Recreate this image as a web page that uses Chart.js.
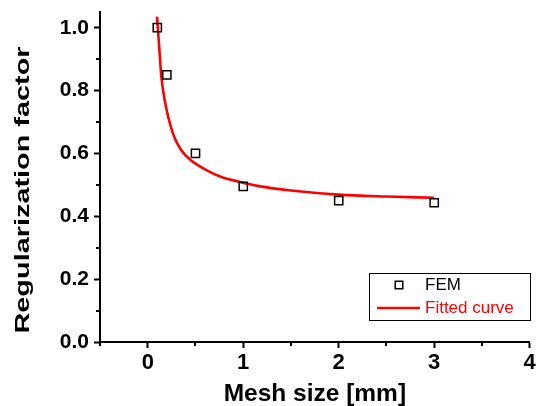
<!DOCTYPE html>
<html>
<head>
<meta charset="utf-8">
<script src="https://cdn.jsdelivr.net/npm/chart.js@4/dist/chart.umd.min.js"></script>
<style>
html,body{margin:0;padding:0;background:#fff;}
canvas{display:block;}
</style>
</head>
<body>
<canvas id="c" width="537" height="406"></canvas>
<script>
// ---- data ----
const femX = [0.1, 0.2, 0.5, 1, 2, 3];
const femY = [1.0, 0.85, 0.60, 0.495, 0.45, 0.443];
const fitX = [0.097, 0.117, 0.142, 0.177, 0.263, 0.349, 0.470, 0.609, 0.765, 0.955, 1.163, 1.5, 2.0, 2.5, 3.0];
const fitY = [1.035, 0.951, 0.845, 0.770, 0.664, 0.611, 0.574, 0.548, 0.526, 0.510, 0.496, 0.482, 0.469, 0.463, 0.459];
const xTicks = [0, 1, 2, 3, 4];
const yTicks = [0, 0.2, 0.4, 0.6, 0.8, 1.0];
const xMinor = [-0.5, 0.5, 1.5, 2.5, 3.5];
const yMinor = [0.1, 0.3, 0.5, 0.7, 0.9];
const seriesNames = ['FEM', 'Fitted curve'];
const xTitle = 'Mesh size [mm]';
const yTitle = 'Regularization factor';

const FONT = "'Liberation Sans', Arial, Helvetica, sans-serif";
const RED = '#ff0000';

const femPts = femX.map((x, i) => ({x: x, y: femY[i]}));
const fitPts = fitX.map((x, i) => ({x: x, y: fitY[i]}));

const noPad = () => ({left: 0, right: 0, top: 0, bottom: 0});

const minorTicksPlugin = {
  id: 'minorTicks',
  afterDraw(chart) {
    const ctx = chart.ctx, xs = chart.scales.x, ys = chart.scales.y;
    const a = chart.chartArea;
    ctx.save();
    ctx.strokeStyle = '#000';
    ctx.lineWidth = 2;
    ctx.beginPath();
    xMinor.forEach(v => {
      const px = Math.round(xs.getPixelForValue(v));
      ctx.moveTo(px, a.bottom); ctx.lineTo(px, a.bottom + 4);
    });
    yMinor.forEach(v => {
      const py = Math.round(ys.getPixelForValue(v));
      ctx.moveTo(a.left, py); ctx.lineTo(a.left - 4, py);
    });
    ctx.stroke();
    ctx.restore();
  }
};

const yTitlePlugin = {
  id: 'yTitleStretch',
  afterDraw(chart, args, opts) {
    const ctx = chart.ctx;
    ctx.save();
    ctx.translate(opts.cx, opts.cy);
    ctx.rotate(-Math.PI / 2);
    ctx.scale(opts.stretch, 1);
    ctx.font = 'bold ' + opts.size + 'px ' + FONT;
    ctx.fillStyle = '#000';
    ctx.textAlign = 'center';
    ctx.textBaseline = 'middle';
    ctx.fillText(yTitle, 0, 0);
    ctx.restore();
  }
};

const legendPlugin = {
  id: 'boxLegend',
  afterDraw(chart, args, o) {
    const ctx = chart.ctx;
    const ds = chart.data.datasets;
    ctx.save();
    ctx.fillStyle = '#fff';
    ctx.fillRect(o.x, o.y, o.w, o.h);
    ctx.strokeStyle = '#000';
    ctx.lineWidth = 1;
    ctx.strokeRect(o.x + 0.5, o.y + 0.5, o.w, o.h);
    const y1 = o.y + 12, y2 = o.y + 35;
    ctx.lineWidth = ds[0].borderWidth;
    ctx.strokeStyle = ds[0].borderColor;
    ctx.strokeRect(o.markerX - 3.75, y1 - 3.75, 7.5, 7.5);
    ctx.font = o.size + 'px ' + FONT;
    ctx.textBaseline = 'middle';
    ctx.textAlign = 'left';
    ctx.fillStyle = '#000';
    ctx.fillText(ds[0].label, o.textX, y1);
    ctx.strokeStyle = ds[1].borderColor;
    ctx.lineWidth = ds[1].borderWidth;
    ctx.beginPath();
    ctx.moveTo(o.lineX0, y2); ctx.lineTo(o.lineX1, y2);
    ctx.stroke();
    ctx.fillStyle = ds[1].borderColor;
    ctx.fillText(ds[1].label, o.textX, y2);
    ctx.restore();
  }
};

new Chart(document.getElementById('c'), {
  type: 'scatter',
  data: {
    datasets: [
      {
        label: seriesNames[0],
        data: femPts,
        showLine: false,
        pointStyle: 'rect',
        pointRadius: 5.8,
        pointHoverRadius: 5.8,
        borderColor: '#000',
        backgroundColor: 'rgba(0,0,0,0)',
        borderWidth: 1.5,
        pointBorderWidth: 1.5
      },
      {
        label: seriesNames[1],
        data: fitPts,
        showLine: true,
        cubicInterpolationMode: 'monotone',
        pointRadius: 0,
        pointHoverRadius: 0,
        borderColor: RED,
        backgroundColor: RED,
        borderWidth: 2.6
      }
    ]
  },
  options: {
    responsive: false,
    animation: false,
    devicePixelRatio: 1,
    layout: {padding: {left: 0, top: 12, right: 3, bottom: 0}},
    plugins: {
      legend: {display: false},
      tooltip: {enabled: false},
      yTitleStretch: {cx: 24, cy: 190, size: 19.5, stretch: 1.48},
      boxLegend: {x: 369, y: 273, w: 161, h: 47, markerX: 399, lineX0: 377, lineX1: 420, textX: 425, size: 17}
    },
    scales: {
      x: {
        type: 'linear',
        min: -0.5,
        max: 4,
        afterBuildTicks: s => { s.ticks = xTicks.map(v => ({value: v})); },
        afterFit: s => { s.height = 64; s.paddingLeft = 0; s.paddingRight = 0; s.getPadding = noPad; },
        grid: {display: true, drawOnChartArea: false, drawTicks: true, tickLength: 6, tickWidth: 2, tickColor: '#000'},
        border: {display: true, color: '#000', width: 2},
        ticks: {
          color: '#000', padding: 2, maxRotation: 0, autoSkip: false,
          font: {family: FONT, size: 22, weight: 'bold'},
          callback: v => String(v)
        },
        title: {
          display: true, text: xTitle, color: '#000',
          font: {family: FONT, size: 24.5, weight: 'bold', lineHeight: 1},
          padding: {top: 0, bottom: 0}
        }
      },
      y: {
        type: 'linear',
        min: 0,
        max: 1.05,
        afterBuildTicks: s => { s.ticks = yTicks.map(v => ({value: v})); },
        afterFit: s => { s.width = 100; s.paddingTop = 0; s.paddingBottom = 0; s.getPadding = noPad; },
        grid: {display: true, drawOnChartArea: false, drawTicks: true, tickLength: 6, tickWidth: 2, tickColor: '#000'},
        border: {display: true, color: '#000', width: 2},
        ticks: {
          color: '#000', padding: 5, autoSkip: false,
          font: {family: FONT, size: 21, weight: 'bold'},
          callback: v => Number(v).toFixed(1)
        }
      }
    }
  },
  plugins: [minorTicksPlugin, yTitlePlugin, legendPlugin]
});
</script>
</body>
</html>
